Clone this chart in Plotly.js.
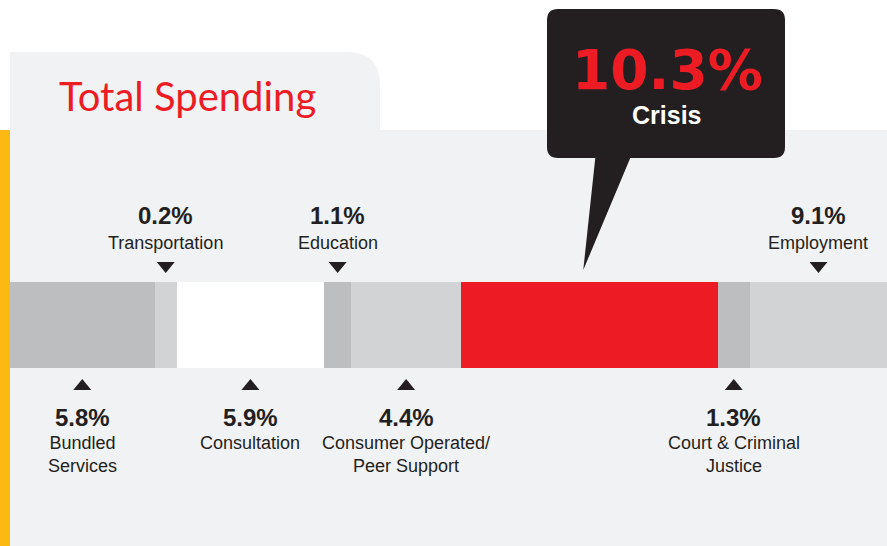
<!DOCTYPE html>
<html><head><meta charset="utf-8">
<script src="https://cdn.plot.ly/plotly-3.0.1.min.js"></script>
<style>html,body{margin:0;padding:0;background:#fff;overflow:hidden}#chart{width:887px;height:546px}</style>
</head><body><div id="chart"></div>
<script>
// ---- data ----
const categories = ['Bundled<br>Services', 'Transportation', 'Consultation', 'Education',
  'Consumer Operated/<br>Peer Support', 'Crisis', 'Court & Criminal<br>Justice', 'Employment'];
const shares = [5.8, 0.2, 5.9, 1.1, 4.4, 10.3, 1.3, 9.1];
const shareLabels = ['5.8%', '0.2%', '5.9%', '1.1%', '4.4%', '10.3%', '1.3%', '9.1%'];
const chartTitle = 'Total Spending';
const highlightCategory = 'Crisis';

// ---- styles / layout ----
const segColors = ['#bcbec0', '#d1d3d4', '#ffffff', '#bcbec0', '#d1d3d4', '#ed1c24', '#bcbec0', '#d1d3d4'];
const labelSide = ['below', 'above', 'below', 'above', 'below', 'callout', 'below', 'above'];
const W = 887, H = 546;
const M = {l: 10, r: 0, t: 282, b: 178};
const MIN_VISIBLE = 0.9;   // smallest drawn share so tiny segments stay visible
const XMAX = 35.2;
const INK = '#231f20', RED = '#ed1c24', PANEL = '#f1f2f4', YELLOW = '#fdb913';

const pw = W - M.l - M.r, ph = H - M.t - M.b;
const PX = p => (p - M.l) / pw;
const PY = p => (H - M.b - p) / ph;
const DX = v => v / XMAX;

const widths = shares.map(v => Math.max(v, MIN_VISIBLE));
const starts = [];
let acc = 0;
widths.forEach(w => { starts.push(acc); acc += w; });
const centers = widths.map((w, i) => (starts[i] + Math.min(starts[i] + w, XMAX)) / 2);

const trace = {
  type: 'bar', orientation: 'h',
  y: categories.map(() => 0), x: widths, base: starts, width: 1,
  marker: {color: segColors, line: {width: 0}},
  hoverinfo: 'skip', showlegend: false
};

const shapes = [];
// light panel
shapes.push({type: 'rect', xref: 'paper', yref: 'paper', x0: PX(10), x1: PX(887), y0: PY(546), y1: PY(130),
  fillcolor: PANEL, line: {width: 0}, layer: 'below'});
// tab with rounded top-right corner
shapes.push({type: 'path', xref: 'paper', yref: 'paper', layer: 'below', fillcolor: PANEL, line: {width: 0},
  path: `M${PX(10)},${PY(131)} L${PX(10)},${PY(52)} L${PX(347)},${PY(52)} Q${PX(380)},${PY(52)} ${PX(380)},${PY(85)} L${PX(380)},${PY(131)} Z`});
// yellow edge
shapes.push({type: 'rect', xref: 'paper', yref: 'paper', x0: PX(0), x1: PX(10), y0: PY(546), y1: PY(130),
  fillcolor: YELLOW, line: {width: 0}, layer: 'below'});

const annotations = [];
const hiIdx = categories.indexOf(highlightCategory);

// callout
const tipPx = M.l + DX(centers[hiIdx]) * pw - 6;
const bx0 = 547, bx1 = 785, by0 = 9, by1 = 158, r = 11;
const q = (x, y) => `${PX(x)},${PY(y)}`;
shapes.push({type: 'path', xref: 'paper', yref: 'paper', layer: 'above', fillcolor: INK, line: {width: 0},
  path: `M${q(bx0 + r, by0)} L${q(bx1 - r, by0)} Q${q(bx1, by0)} ${q(bx1, by0 + r)} L${q(bx1, by1 - r)} Q${q(bx1, by1)} ${q(bx1 - r, by1)}` +
    ` L${q(tipPx + 47, by1)} L${q(tipPx, 270)} L${q(tipPx + 12, by1)} L${q(bx0 + r, by1)} Q${q(bx0, by1)} ${q(bx0, by1 - r)} L${q(bx0, by0 + r)} Q${q(bx0, by0)} ${q(bx0 + r, by0)} Z`});
annotations.push({xref: 'paper', yref: 'paper', x: PX((bx0 + bx1) / 2 + 1), y: PY(70), xanchor: 'center', yanchor: 'middle',
  text: shareLabels[hiIdx], showarrow: false, font: {family: 'DejaVu Sans', size: 55, color: RED, weight: 'bold'}});
annotations.push({xref: 'paper', yref: 'paper', x: PX((bx0 + bx1) / 2), y: PY(115), xanchor: 'center', yanchor: 'middle',
  text: categories[hiIdx], showarrow: false, font: {family: 'Liberation Sans', size: 25, color: '#ffffff', weight: 'bold'}});

categories.forEach((c, i) => {
  const side = labelSide[i];
  if (side === 'callout') return;
  const cx = DX(centers[i]);
  const hw = 9 / pw;
  if (side === 'above') {
    shapes.push({type: 'path', xref: 'paper', yref: 'paper', fillcolor: INK, line: {width: 0},
      path: `M${cx - hw},${PY(262)} L${cx + hw},${PY(262)} L${cx},${PY(273)} Z`});
    annotations.push({xref: 'paper', yref: 'paper', x: cx, y: PY(215), xanchor: 'center', yanchor: 'middle', showarrow: false,
      text: shareLabels[i], font: {family: 'Liberation Sans', size: 24, color: INK, weight: 'bold'}});
    annotations.push({xref: 'paper', yref: 'paper', x: cx, y: PY(243), xanchor: 'center', yanchor: 'middle', showarrow: false,
      text: c, font: {family: 'Liberation Sans', size: 18, color: INK}});
  } else {
    shapes.push({type: 'path', xref: 'paper', yref: 'paper', fillcolor: INK, line: {width: 0},
      path: `M${cx - hw},${PY(390)} L${cx + hw},${PY(390)} L${cx},${PY(379)} Z`});
    annotations.push({xref: 'paper', yref: 'paper', x: cx, y: PY(417), xanchor: 'center', yanchor: 'middle', showarrow: false,
      text: shareLabels[i], font: {family: 'Liberation Sans', size: 24, color: INK, weight: 'bold'}});
    annotations.push({xref: 'paper', yref: 'paper', x: cx, y: PY(431), xanchor: 'center', yanchor: 'top', showarrow: false,
      text: c, font: {family: 'Liberation Sans', size: 18, color: INK}});
  }
});

const layout = {
  width: W, height: H, margin: M,
  paper_bgcolor: '#ffffff', plot_bgcolor: 'rgba(0,0,0,0)',
  title: {text: chartTitle, xref: 'container', yref: 'container', x: 59 / W, y: 1 - 97 / H,
    xanchor: 'left', yanchor: 'middle', font: {family: 'Lato', size: 40, color: RED}},
  xaxis: {range: [0, XMAX], visible: false, fixedrange: true},
  yaxis: {range: [-0.5, 0.5], visible: false, fixedrange: true},
  barmode: 'overlay', bargap: 0,
  shapes: shapes, annotations: annotations, showlegend: false
};

Plotly.newPlot('chart', [trace], layout, {displayModeBar: false, staticPlot: true});
</script></body></html>
